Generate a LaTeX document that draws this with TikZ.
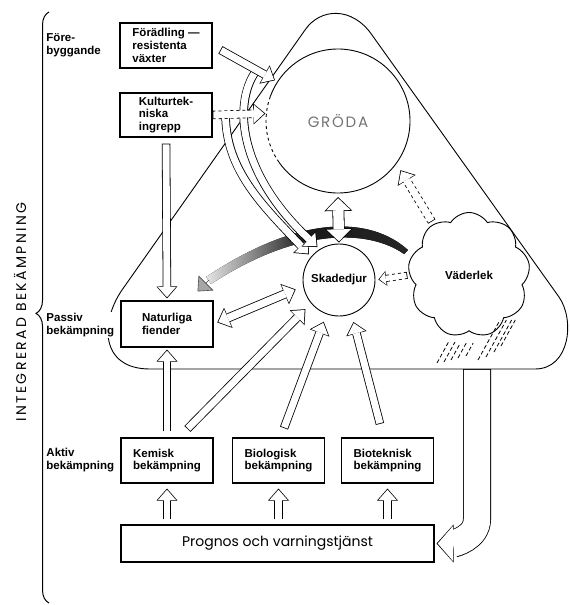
\documentclass[tikz,border=0pt]{standalone}
\usepackage{fontspec}
\setmainfont{Liberation Sans}
\newfontfamily\geofont{Poppins}
\usetikzlibrary{arrows.meta,positioning,shapes.symbols,decorations.pathreplacing}
\newcommand{\lblfont}{\bfseries\fontsize{11.5}{12.8}\selectfont}

\begin{document}
\begin{tikzpicture}[x=1pt, y=-1pt, line width=0.9pt,
  box/.style={draw, fill=white, line width=1.1pt, minimum width=92pt, minimum height=45pt,
    font=\lblfont, align=left, inner sep=2pt},
  side/.style={fill=white, font=\lblfont, align=left, inner sep=1pt, anchor=west},
  rain/.style={line width=0.8pt, dash pattern=on 4pt off 2.5pt},
  band/.style={left color=black!10, right color=black!85, middle color=black!90},
  bandtip/.style={line width=0.6pt, black!70, -{Triangle[length=12pt, width=21pt, fill=black!35]}},
  holarr/.style 2 args={line width=8.5pt, shorten <=#1, shorten >=#2,
    -{Triangle[length=12pt, width=21pt, line width=0pt]},
    postaction={draw=white, solid, line width=6.9pt, shorten <=#1+0.8pt, shorten >=#2+1.2pt,
      -{Triangle[length=10.2pt, width=18pt, line width=0pt]}}},
  holsm/.style 2 args={line width=7pt, shorten <=#1, shorten >=#2,
    -{Triangle[length=8pt, width=15pt, line width=0pt]},
    postaction={draw=white, solid, line width=5.4pt, shorten <=#1+0.8pt, shorten >=#2+1.1pt,
      -{Triangle[length=6.3pt, width=12.5pt, line width=0pt]}}},
  holdbl/.style 2 args={line width=9pt, shorten <=#1, shorten >=#2,
    {Triangle[length=12pt, width=22pt, line width=0pt]}-{Triangle[length=12pt, width=22pt, line width=0pt]},
    postaction={draw=white, solid, line width=7.4pt, shorten <=#1+1.2pt, shorten >=#2+1.2pt,
      {Triangle[length=10.2pt, width=19pt, line width=0pt]}-{Triangle[length=10.2pt, width=19pt, line width=0pt]}}},
  holwide/.style 2 args={line width=12pt, shorten <=#1, shorten >=#2,
    {Triangle[length=14pt, width=28pt, line width=0pt]}-{Triangle[length=14pt, width=28pt, line width=0pt]},
    postaction={draw=white, solid, line width=10.4pt, shorten <=#1+1.2pt, shorten >=#2+1.2pt,
      {Triangle[length=12pt, width=24.5pt, line width=0pt]}-{Triangle[length=12pt, width=24.5pt, line width=0pt]}}},
  holbig/.style 2 args={line width=28pt, shorten <=#1, shorten >=#2,
    -{Triangle[length=17pt, width=38pt, line width=0pt]},
    postaction={draw=white, solid, line width=26.4pt, shorten <=#1+0.8pt, shorten >=#2+1.2pt,
      -{Triangle[length=15pt, width=34.5pt, line width=0pt]}}}]
\useasboundingbox (0,0) rectangle (570,605);
% Triangle of the field
\draw (150,369) -- (535,369) .. controls (570,369) and (575,320) .. (559,297)
  -- (372,35) .. controls (352,6) and (320,8) .. (305,30)
  -- (122,290) .. controls (100,322) and (100,369) .. (150,369) -- cycle;
% Weather band
\coordinate (bandR) at (408,250);
\coordinate (bandL) at (209,280);
\fill[band] (bandR) .. controls (370,216) and (300,214) .. (206,277) -- (211,284)
  .. controls (300,226) and (370,230) .. (404,254) -- cycle;
% Crop and pests
\node[circle, minimum size=144pt, inner sep=0pt, outer sep=0pt, text=black!55,
      font=\geofont\fontsize{15}{15}\selectfont\addfontfeature{LetterSpace=12}] (groda) at (338,121) {GRÖDA};
\draw (groda.215) arc[start angle=215, end angle=520, radius=72pt];
\draw[dashed] (groda.160) arc[start angle=160, end angle=215, radius=72pt];
\node[circle, draw, minimum size=72pt, inner sep=0pt, font=\lblfont] (skad) at (339,280) {Skadedjur};
% Boxes
\node[box] (fora) at (166,45.5) {Förädling —\\resistenta\\växter};
\node[box, minimum height=44pt] (kult) at (166,115) {Kulturtek-\\niska\\ingrepp};
\node[box, minimum height=46pt] (natur) at (167,324) {Naturliga\\fiender};
\node[box] (kemi) at (167,460.5) {Kemisk\\bekämpning};
\node[box] (biol) at (278.5,460.5) {Biologisk\\bekämpning};
\node[box] (biot) at (387.5,460.5) {Bioteknisk\\bekämpning};
\node[box, minimum width=313pt, minimum height=37pt,
      font=\geofont\fontsize{14}{14}\selectfont] (progn) at (277.5,543.5) {Prognos och varningstjänst};
\node[cloud, draw, fill=white, cloud puffs=9, cloud puff arc=115, aspect=1,
      minimum width=122pt, minimum height=125pt, font=\lblfont] (vad) at (469,275) {Väderlek};
\draw[bandtip] (bandL) -- ([xshift=-16pt,yshift=9pt]natur.north east);
% Rain
\foreach \rx/\ry/\rl in {437/363/22, 444/362/20, 451/360/17, 458/358/15, 466/356/13,
    478/360/40, 486/357/37, 494/352/32, 501/346/26}
  \draw[rain] (\rx,\ry) -- ++(0.55*\rl,-\rl);
% Arrows
\coordinate (fbr) at (256,71);
\draw[holarr={0pt}{3pt}] ([xshift=13pt]kult.east) .. controls (226,170) and (262,205) .. (skad.140);
\draw[holarr={0pt}{3pt}] (fbr) .. controls (232,105) and (240,175) .. (skad.122);
\draw[holarr={0pt}{1pt}, dashed] (kult.east) -- (groda.174);
\draw[holarr={9pt}{3pt}] (fora.east) -- (groda.147);
\draw[holarr={6pt}{2pt}] (kult.south) -- (natur.north);
\draw[holarr={6pt}{2pt}] (kemi.north) -- (natur.south);
\draw[holarr={12pt}{8pt}] ([xshift=12pt]kemi.north) -- (skad.220);
\draw[holarr={10pt}{8pt}] ([xshift=2pt]biol.north) -- (skad.250);
\draw[holarr={14pt}{8pt}] ([xshift=-4pt]biot.north) -- (skad.290);
\draw[holdbl={4pt}{8pt}] (natur.east) -- (skad.190);
\draw[holwide={4pt}{1pt}] (groda.south) -- (skad.north);
\draw[holarr={3pt}{8pt}, dashed] (vad.125) -- (groda.-36);
\draw[holsm={2pt}{3pt}, dashed] (vad.west) -- (skad.east);
\foreach \b in {kemi, biol, biot}
  \draw[holarr={5pt}{5pt}] (\b |- progn.north) -- (\b.south);
\coordinate (triout) at (477,369);
\draw[holbig={0pt}{2pt}] (triout) -- ++(0,150) to[out=-90, in=0] (progn.east);
% Left labels
\draw[decorate, decoration={brace, amplitude=13pt, aspect=0.49}, line width=1pt] (49,603) -- (49,12);
\node[side] (fore) at (45,45) {Före-\\byggande};
\node[side] (pass) at (45,325) {Passiv\\bekämpning};
\node[side] (akt) at (45,460) {Aktiv\\bekämpning};
\node[rotate=90, font=\geofont\fontsize{14}{14}\selectfont\addfontfeature{LetterSpace=17}] (title) at (20,312) {INTEGRERAD BEKÄMPNING};
\end{tikzpicture}
\end{document}
